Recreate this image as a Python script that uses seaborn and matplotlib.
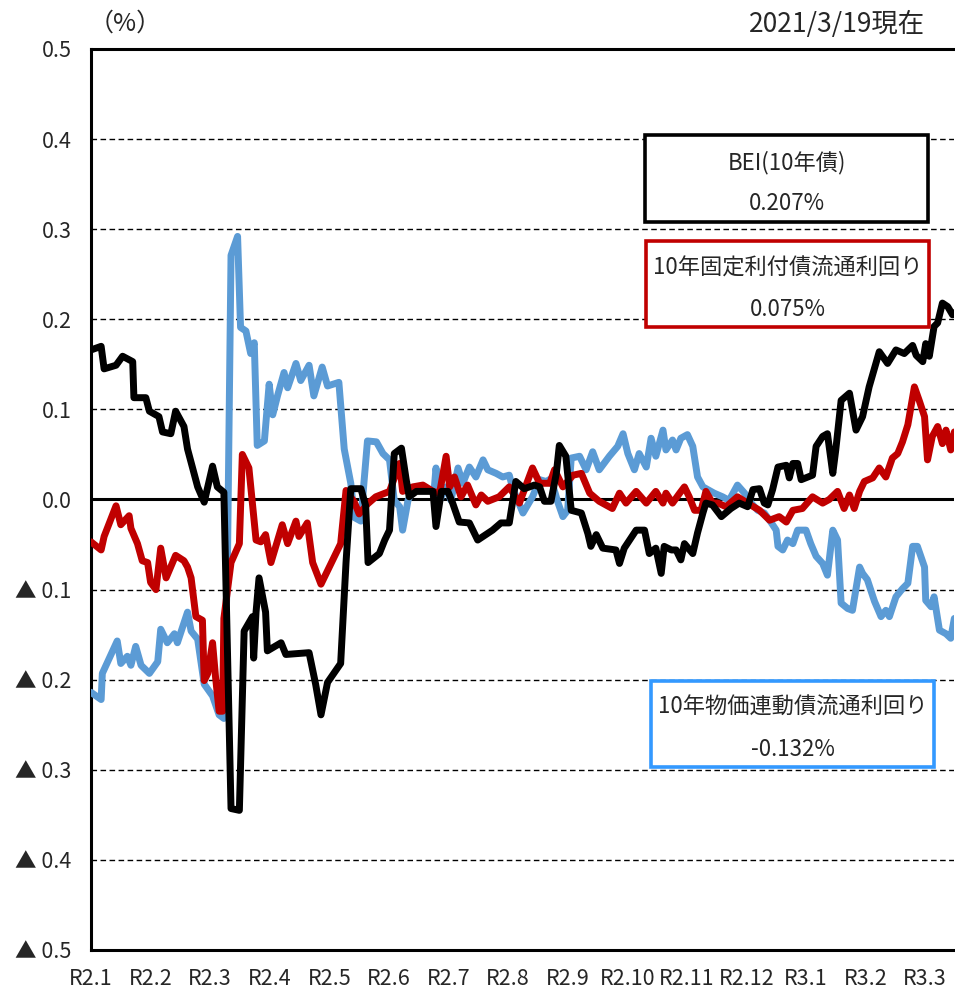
import matplotlib
matplotlib.use("Agg")
import matplotlib.pyplot as plt
import matplotlib.patches as mpatches
import seaborn as sns

# x positions are in months from R2.1 (Jan 2020)
month_labels = ["R2.1", "R2.2", "R2.3", "R2.4", "R2.5", "R2.6", "R2.7", "R2.8",
                "R2.9", "R2.10", "R2.11", "R2.12", "R3.1", "R3.2", "R3.3"]
ytick_values = [0.5, 0.4, 0.3, 0.2, 0.1, 0.0, -0.1, -0.2, -0.3, -0.4, -0.5]
ytick_labels = ["0.5", "0.4", "0.3", "0.2", "0.1", "0.0",
                "▲ 0.1", "▲ 0.2", "▲ 0.3", "▲ 0.4", "▲ 0.5"]

# BEI (10年債)
bei_x = [0.0, 0.17, 0.22, 0.42, 0.53, 0.70, 0.72, 0.92, 0.98, 1.14, 1.20, 1.34, 1.42, 1.56,
         1.62, 1.79, 1.90, 2.04, 2.12, 2.23, 2.35, 2.49, 2.57, 2.71, 2.73, 2.77, 2.82, 2.93,
         2.96, 3.19, 3.27, 3.66, 3.77, 3.86, 3.97, 4.19, 4.28, 4.36, 4.53, 4.61, 4.65, 4.84,
         4.93, 5.01, 5.09, 5.21, 5.29, 5.34, 5.46, 5.74, 5.79, 5.88, 5.99, 6.07, 6.18, 6.35,
         6.49, 6.74, 6.88, 7.02, 7.13, 7.27, 7.36, 7.44, 7.53, 7.61, 7.72, 7.81, 7.86, 7.97,
         8.06, 8.23, 8.34, 8.39, 8.48, 8.59, 8.81, 8.87, 8.95, 9.15, 9.29, 9.37, 9.48, 9.57,
         9.62, 9.74, 9.82, 9.90, 9.96, 10.10, 10.18, 10.27, 10.32, 10.43, 10.58, 10.74, 10.88,
         11.02, 11.11, 11.22, 11.30, 11.36, 11.44, 11.53, 11.67, 11.72, 11.78, 11.86, 11.92,
         12.11, 12.17, 12.28, 12.36, 12.45, 12.50, 12.59, 12.73, 12.84, 12.95, 13.06, 13.23,
         13.37, 13.51, 13.65, 13.79, 13.85, 13.96, 14.01, 14.07, 14.15, 14.21, 14.29, 14.38,
         14.46, 14.49]
bei_y = [0.166, 0.170, 0.145, 0.149, 0.159, 0.153, 0.113, 0.113, 0.098, 0.092, 0.075, 0.073,
         0.098, 0.081, 0.056, 0.014, -0.003, 0.037, 0.014, 0.008, -0.343, -0.345, -0.146,
         -0.130, -0.176, -0.125, -0.087, -0.125, -0.168, -0.159, -0.172, -0.170, -0.205,
         -0.239, -0.203, -0.182, -0.070, 0.012, 0.012, -0.007, -0.070, -0.060, -0.045, -0.034,
         0.051, 0.057, 0.022, 0.003, 0.009, 0.009, -0.030, 0.009, 0.009, -0.004, -0.025,
         -0.026, -0.045, -0.034, -0.026, -0.026, 0.020, 0.012, 0.014, 0.016, 0.014, -0.002,
         -0.002, 0.029, 0.060, 0.048, -0.012, -0.015, -0.038, -0.052, -0.039, -0.054, -0.056,
         -0.071, -0.054, -0.034, -0.034, -0.060, -0.054, -0.082, -0.052, -0.056, -0.056,
         -0.067, -0.049, -0.060, -0.037, -0.015, -0.004, -0.006, -0.019, -0.010, -0.004,
         -0.008, 0.011, 0.012, -0.004, -0.006, 0.011, 0.036, 0.038, 0.024, 0.040, 0.040,
         0.022, 0.027, 0.059, 0.070, 0.073, 0.029, 0.055, 0.110, 0.118, 0.077, 0.092, 0.125,
         0.164, 0.151, 0.166, 0.162, 0.171, 0.160, 0.153, 0.173, 0.159, 0.192, 0.196, 0.218,
         0.214, 0.205, 0.207]

# 10年固定利付債流通利回り
jgb_x = [0.0, 0.17, 0.22, 0.42, 0.50, 0.64, 0.67, 0.78, 0.86, 0.95, 1.00, 1.09, 1.17, 1.26,
         1.42, 1.56, 1.62, 1.68, 1.76, 1.87, 1.90, 1.96, 2.04, 2.09, 2.15, 2.21, 2.23, 2.35,
         2.49, 2.54, 2.65, 2.77, 2.85, 2.93, 3.02, 3.21, 3.30, 3.44, 3.49, 3.63, 3.72, 3.86,
         4.19, 4.28, 4.42, 4.50, 4.64, 4.78, 5.01, 5.18, 5.23, 5.40, 5.57, 5.74, 5.85, 5.96,
         6.02, 6.10, 6.21, 6.32, 6.46, 6.55, 6.66, 6.85, 7.02, 7.19, 7.41, 7.53, 7.70, 7.78,
         7.92, 8.09, 8.23, 8.37, 8.53, 8.75, 8.87, 8.98, 9.15, 9.32, 9.48, 9.60, 9.65, 9.76,
         9.88, 9.96, 10.04, 10.13, 10.24, 10.32, 10.43, 10.52, 10.66, 10.85, 11.02, 11.22,
         11.39, 11.55, 11.67, 11.78, 11.94, 12.11, 12.28, 12.39, 12.53, 12.64, 12.73, 12.81,
         12.90, 12.98, 13.12, 13.23, 13.34, 13.45, 13.54, 13.62, 13.71, 13.82, 13.90, 13.99,
         14.04, 14.12, 14.21, 14.29, 14.35, 14.43, 14.49]
jgb_y = [-0.047, -0.056, -0.041, -0.007, -0.028, -0.018, -0.032, -0.049, -0.068, -0.070,
         -0.092, -0.100, -0.054, -0.087, -0.062, -0.068, -0.075, -0.087, -0.130, -0.134,
         -0.201, -0.193, -0.159, -0.197, -0.235, -0.235, -0.132, -0.070, -0.049, 0.050,
         0.035, -0.045, -0.047, -0.039, -0.070, -0.028, -0.049, -0.024, -0.041, -0.026,
         -0.070, -0.094, -0.049, 0.010, -0.003, -0.016, -0.005, 0.003, 0.009, 0.040, 0.009,
         0.014, 0.016, 0.009, 0.007, 0.048, 0.014, 0.025, 0.003, 0.016, -0.006, 0.005,
         -0.002, 0.003, 0.014, -0.004, 0.035, 0.018, 0.018, 0.033, 0.014, 0.027, 0.029,
         0.007, -0.002, -0.010, 0.007, -0.004, 0.009, -0.004, 0.009, -0.004, 0.007, -0.004,
         0.007, 0.014, 0.003, -0.012, -0.012, 0.009, -0.004, -0.004, -0.008, 0.003, -0.004,
         -0.012, -0.023, -0.019, -0.025, -0.012, -0.010, 0.003, -0.004, 0.000, 0.009,
         -0.010, 0.005, -0.010, 0.009, 0.020, 0.024, 0.035, 0.025, 0.046, 0.051, 0.064,
         0.083, 0.125, 0.110, 0.092, 0.044, 0.070, 0.081, 0.062, 0.077, 0.055, 0.075]

# 10年物価連動債流通利回り
jgbi_x = [0.0, 0.17, 0.19, 0.44, 0.50, 0.61, 0.67, 0.75, 0.84, 0.98, 1.12, 1.17, 1.28, 1.40,
          1.45, 1.62, 1.68, 1.79, 1.90, 2.04, 2.15, 2.23, 2.29, 2.35, 2.46, 2.51, 2.60, 2.68,
          2.74, 2.79, 2.91, 2.99, 3.05, 3.13, 3.24, 3.30, 3.44, 3.52, 3.66, 3.74, 3.88, 3.97,
          4.16, 4.25, 4.36, 4.42, 4.53, 4.58, 4.64, 4.79, 4.90, 5.01, 5.09, 5.18, 5.23, 5.32,
          5.40, 5.57, 5.76, 5.79, 5.85, 5.96, 6.04, 6.16, 6.24, 6.35, 6.46, 6.58, 6.66, 6.80,
          6.91, 7.02, 7.08, 7.25, 7.41, 7.53, 7.64, 7.72, 7.83, 7.92, 8.00, 8.06, 8.20, 8.31,
          8.42, 8.53, 8.70, 8.84, 8.93, 9.01, 9.12, 9.20, 9.32, 9.40, 9.48, 9.60, 9.65, 9.76,
          9.82, 9.90, 10.01, 10.10, 10.18, 10.27, 10.35, 10.46, 10.60, 10.71, 10.85, 10.97,
          11.08, 11.19, 11.30, 11.41, 11.50, 11.53, 11.61, 11.69, 11.78, 11.86, 12.00, 12.08,
          12.17, 12.28, 12.36, 12.45, 12.53, 12.59, 12.70, 12.78, 12.90, 12.95, 13.03, 13.15,
          13.26, 13.34, 13.40, 13.51, 13.62, 13.71, 13.79, 13.87, 13.99, 14.01, 14.10, 14.15,
          14.24, 14.35, 14.43, 14.49]
jgbi_y = [-0.214, -0.222, -0.193, -0.157, -0.182, -0.174, -0.184, -0.163, -0.184, -0.193,
          -0.180, -0.144, -0.159, -0.149, -0.159, -0.125, -0.146, -0.155, -0.205, -0.218,
          -0.239, -0.243, -0.070, 0.271, 0.292, 0.191, 0.187, 0.162, 0.174, 0.060, 0.065,
          0.128, 0.094, 0.115, 0.141, 0.124, 0.151, 0.132, 0.149, 0.115, 0.147, 0.126, 0.130,
          0.056, 0.018, -0.020, -0.024, 0.018, 0.065, 0.064, 0.051, 0.044, -0.001, -0.008,
          -0.034, -0.001, 0.011, 0.011, 0.011, 0.035, -0.001, 0.014, -0.001, 0.035, 0.018,
          0.036, 0.025, 0.044, 0.033, 0.029, 0.025, 0.027, 0.012, -0.015, 0.003, 0.022, 0.020,
          0.023, -0.002, -0.019, -0.012, 0.046, 0.048, 0.033, 0.053, 0.033, 0.048, 0.059,
          0.073, 0.051, 0.033, 0.051, 0.036, 0.068, 0.048, 0.077, 0.055, 0.066, 0.055, 0.068,
          0.072, 0.059, 0.025, 0.014, 0.011, 0.007, 0.003, -0.001, 0.016, 0.007, -0.004,
          -0.012, -0.015, -0.025, -0.034, -0.052, -0.056, -0.045, -0.049, -0.034, -0.034,
          -0.049, -0.063, -0.071, -0.084, -0.034, -0.045, -0.115, -0.121, -0.123, -0.075,
          -0.082, -0.089, -0.113, -0.130, -0.123, -0.130, -0.108, -0.099, -0.093, -0.052,
          -0.052, -0.075, -0.112, -0.119, -0.108, -0.145, -0.149, -0.154, -0.132]

box_texts = [("BEI(10年債)", "0.207%"),
             ("10年固定利付債流通利回り", "0.075%"),
             ("10年物価連動債流通利回り", "-0.132%")]

sns.set_theme(style="white")
plt.rcParams['font.family'] = ['Noto Sans CJK JP', 'DejaVu Sans']

fig = plt.figure(figsize=(9.55, 10), dpi=100)
ax = fig.add_axes([0.0953, 0.05, 0.904, 0.901])

# dashed grid + solid zero line
for v in ytick_values:
    if v != 0.0 and abs(v) < 0.5:
        ax.axhline(v, color="black", linestyle=(0, (4, 2.5)), linewidth=1.0, zorder=1)
ax.axhline(0.0, color="black", linewidth=2.2, zorder=2)

lw = 5.0
sns.lineplot(x=jgbi_x, y=jgbi_y, color="#5B9BD5", linewidth=lw, ax=ax,
             estimator=None, sort=False, zorder=3)
sns.lineplot(x=jgb_x, y=jgb_y, color="#C00000", linewidth=lw, ax=ax,
             estimator=None, sort=False, zorder=4)
sns.lineplot(x=bei_x, y=bei_y, color="black", linewidth=lw, ax=ax,
             estimator=None, sort=False, zorder=5)

ax.set_xlim(0, 14.49)
ax.set_ylim(-0.5, 0.5)
ax.set_xticks(range(len(month_labels)))
ax.set_xticklabels(month_labels, fontsize=15.5)
ax.set_yticks(ytick_values)
ax.set_yticklabels(ytick_labels, fontsize=15.5)
ax.tick_params(axis="x", length=0, pad=13)
ax.tick_params(axis="y", length=0, pad=14)
ax.set_xlabel("")
ax.set_ylabel("")

for side in ["left", "top", "bottom"]:
    ax.spines[side].set_color("black")
    ax.spines[side].set_linewidth(2.2)
ax.spines["right"].set_visible(False)

# annotation boxes (axes fraction)
box_specs = [((0.642, 0.808), "black"),
             ((0.643, 0.691), "#C00000"),
             ((0.649, 0.203), "#3399FF")]
for (x0, y0), ec in box_specs:
    ax.add_patch(mpatches.Rectangle((x0, y0), 0.328, 0.096, transform=ax.transAxes,
                                    facecolor="white", edgecolor=ec, linewidth=2.6,
                                    zorder=6, clip_on=False))
for ((x0, y0), ec), (line1, line2) in zip(box_specs, box_texts):
    cx = x0 + 0.164
    ax.text(cx, y0 + 0.066, line1, transform=ax.transAxes, ha="center", va="center",
            fontsize=16, zorder=7)
    ax.text(cx, y0 + 0.020, line2, transform=ax.transAxes, ha="center", va="center",
            fontsize=16, zorder=7)

fig.text(0.131, 0.976, "（%）", ha="center", va="center", fontsize=18)
fig.text(0.969, 0.976, "2021/3/19現在", ha="right", va="center", fontsize=19)

fig.savefig("out.png", dpi=100)
